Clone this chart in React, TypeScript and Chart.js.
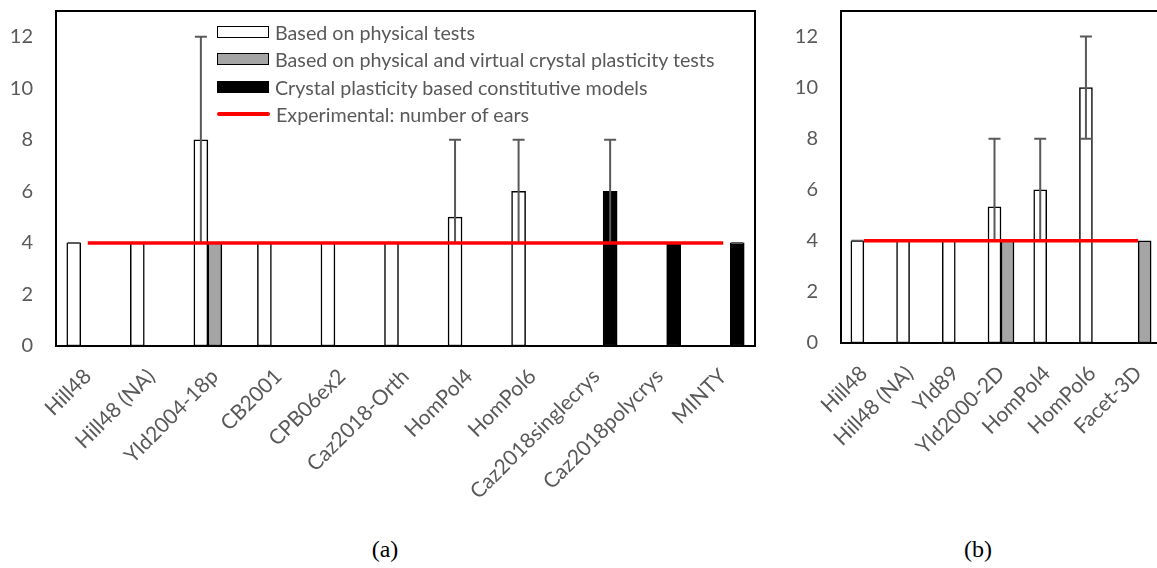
import React, { useEffect, useRef } from "react";
import { Chart, registerables } from "chart.js";

Chart.register(...registerables);

// ---------- data: chart (a) ----------
const categoriesA = ["Hill48", "Hill48 (NA)", "Yld2004-18p", "CB2001", "CPB06ex2", "Caz2018-Orth", "HomPol4", "HomPol6", "Caz2018singlecrys", "Caz2018polycrys", "MINTY"];
const physicalA = [4, 4, 8, 4, 4, 4, 5, 6, null, null, null];
const virtualA = [null, null, 4, null, null, null, null, null, null, null, null];
const crystalA = [null, null, null, null, null, null, null, null, 6, 4, 4];
const experimentalA = [4, 4, 4, 4, 4, 4, 4, 4, 4, 4, 4];
const physicalErrLowA = [4, null, 4, null, null, null, 4, 4, null, null, null];
const physicalErrHighA = [4, null, 12, null, null, null, 8, 8, null, null, null];
const crystalErrLowA = [null, null, null, null, null, null, null, null, 4, null, 4];
const crystalErrHighA = [null, null, null, null, null, null, null, null, 8, null, 4];

// ---------- data: chart (b) ----------
const categoriesB = ["Hill48", "Hill48 (NA)", "Yld89", "Yld2000-2D", "HomPol4", "HomPol6", "Facet-3D"];
const physicalB = [4, 4, 4, 5.33, 6, 10, null];
const virtualB = [null, null, null, 4, null, null, 4];
const experimentalB = [4, 4, 4, 4, 4, 4, 4];
const physicalErrLowB = [4, null, null, 4, 4, 8, null];
const physicalErrHighB = [4, null, null, 8, 8, 12, null];

const yTicks = [0, 2, 4, 6, 8, 10, 12];

const legendLabels = [
  "Based on physical tests",
  "Based on physical and virtual crystal plasticity tests",
  "Crystal plasticity based constitutive models",
  "Experimental: number of ears",
];

const TEXT = "#595959";
const FONT = "Lato";

const errorBarsPlugin = {
  id: "errorBars",
  afterDatasetDraw(chart: any, args: any, opts: any) {
    const set = opts && opts.sets ? opts.sets[args.index] : null;
    if (!set) return;
    const ctx = chart.ctx;
    const y = chart.scales.y;
    const meta = args.meta;
    ctx.save();
    ctx.strokeStyle = "#595959";
    ctx.lineWidth = 2;
    for (let j = 0; j < set.low.length; j++) {
      if (set.low[j] == null) continue;
      const el = meta.data[j];
      const x = el.x;
      const y1 = y.getPixelForValue(set.low[j]);
      const y2 = y.getPixelForValue(set.high[j]);
      ctx.beginPath();
      ctx.moveTo(x, y1);
      ctx.lineTo(x, y2);
      ctx.moveTo(x - 6, y1);
      ctx.lineTo(x + 6, y1);
      ctx.moveTo(x - 6, y2);
      ctx.lineTo(x + 6, y2);
      ctx.stroke();
    }
    ctx.restore();
  },
};

const framePlugin = {
  id: "frame",
  afterDraw(chart: any) {
    const a = chart.chartArea;
    const ctx = chart.ctx;
    ctx.save();
    ctx.strokeStyle = "#000";
    ctx.lineWidth = 2;
    ctx.strokeRect(a.left, a.top, a.right - a.left, a.bottom - a.top);
    ctx.restore();
  },
};

function makeConfig(
  labels: string[],
  datasets: any[],
  errSets: any,
  pad: { top: number; right: number },
  yWidth: number,
  xHeight: number,
  barThickness: number
) {
  return {
    type: "bar",
    data: { labels, datasets },
    plugins: [errorBarsPlugin, framePlugin],
    options: {
      animation: false,
      responsive: false,
      devicePixelRatio: 1,
      layout: { padding: { top: pad.top, right: pad.right, left: 0, bottom: 0 } },
      datasets: { bar: { barThickness, borderSkipped: false } },
      plugins: {
        legend: { display: false },
        tooltip: { enabled: false },
        errorBars: { sets: errSets },
      },
      scales: {
        x: {
          grid: { display: false, drawTicks: false },
          border: { display: false },
          ticks: {
            maxRotation: 45,
            minRotation: 45,
            autoSkip: false,
            padding: 18,
            color: TEXT,
            font: { family: FONT, size: 21 },
          },
          afterFit(scale: any) {
            scale.height = xHeight;
            scale.paddingLeft = 0;
            scale.paddingRight = 0;
          },
        },
        y: {
          min: 0,
          max: 13,
          grid: { display: false, drawTicks: false },
          border: { display: false },
          ticks: {
            stepSize: 2,
            padding: 23,
            color: TEXT,
            font: { family: FONT, size: 20 },
          },
          afterBuildTicks(scale: any) {
            scale.ticks = yTicks.map((v) => ({ value: v }));
          },
          afterFit(scale: any) {
            scale.width = yWidth;
            scale.paddingTop = 0;
            scale.paddingBottom = 0;
          },
        },
      },
    },
  };
}

function ChartA() {
  const ref = useRef<HTMLCanvasElement>(null);
  useEffect(() => {
    const datasets = [
      { label: legendLabels[0], data: physicalA, backgroundColor: "#FFFFFF", borderColor: "#000", borderWidth: 1.5, order: 1 },
      { label: legendLabels[1], data: virtualA, backgroundColor: "#A5A5A5", borderColor: "#000", borderWidth: 1.5, order: 1 },
      { label: legendLabels[2], data: crystalA, backgroundColor: "#000000", borderColor: "#000", borderWidth: 1.5, order: 1 },
      { type: "line", label: legendLabels[3], data: experimentalA, borderColor: "#FF0000", borderWidth: 3.5, pointRadius: 0, fill: false, order: 0 },
    ];
    const errSets = {
      0: { low: physicalErrLowA, high: physicalErrHighA },
      2: { low: crystalErrLowA, high: crystalErrHighA },
    };
    const chart = new Chart(ref.current as any, makeConfig(categoriesA, datasets, errSets, { top: 11, right: 20 }, 56, 530 - 346, 14) as any);
    return () => chart.destroy();
  }, []);
  return <canvas ref={ref} width={775} height={530} style={{ position: "absolute", left: 0, top: 0 }} />;
}

function ChartB() {
  const ref = useRef<HTMLCanvasElement>(null);
  useEffect(() => {
    const datasets = [
      { label: legendLabels[0], data: physicalB, backgroundColor: "#FFFFFF", borderColor: "#000", borderWidth: 1.5, order: 1 },
      { label: legendLabels[1], data: virtualB, backgroundColor: "#A5A5A5", borderColor: "#000", borderWidth: 1.5, order: 1 },
      { type: "line", label: legendLabels[3], data: experimentalB, borderColor: "#FF0000", borderWidth: 3.5, pointRadius: 0, fill: false, order: 0 },
    ];
    const errSets = { 0: { low: physicalErrLowB, high: physicalErrHighB } };
    const chart = new Chart(ref.current as any, makeConfig(categoriesB, datasets, errSets, { top: 11, right: 19 }, 61, 530 - 343, 13) as any);
    return () => chart.destroy();
  }, []);
  return <canvas ref={ref} width={400} height={530} style={{ position: "absolute", left: 780, top: 0 }} />;
}

function Legend() {
  const swatches = ["#FFFFFF", "#A5A5A5", "#000000"];
  const rows = [32, 59, 87, 114];
  return (
    <div>
      {legendLabels.map((t, i) => (
        <div key={i} style={{ position: "absolute", left: 217, top: rows[i] - 13, height: 26, display: "flex", alignItems: "center" }}>
          {i < 3 ? (
            <div style={{ width: 52, height: 12, boxSizing: "border-box", background: swatches[i], border: "1.5px solid #000" }} />
          ) : (
            <div style={{ width: 53, height: 4, background: "#FF0000", borderRadius: 2 }} />
          )}
          <span style={{ marginLeft: 6, fontFamily: FONT, fontSize: 19.7, color: TEXT, whiteSpace: "nowrap" }}>{t}</span>
        </div>
      ))}
    </div>
  );
}

export default function App() {
  return (
    <div style={{ position: "fixed", left: 0, top: 0, width: 1157, height: 568, overflow: "hidden", background: "#fff" }}>
      <ChartA />
      <ChartB />
      <Legend />
      <div style={{ position: "absolute", left: 335, width: 100, top: 536, textAlign: "center", fontFamily: "'Liberation Serif', 'Times New Roman', serif", fontSize: 24, color: "#000" }}>(a)</div>
      <div style={{ position: "absolute", left: 928, width: 100, top: 536, textAlign: "center", fontFamily: "'Liberation Serif', 'Times New Roman', serif", fontSize: 24, color: "#000" }}>(b)</div>
    </div>
  );
}
